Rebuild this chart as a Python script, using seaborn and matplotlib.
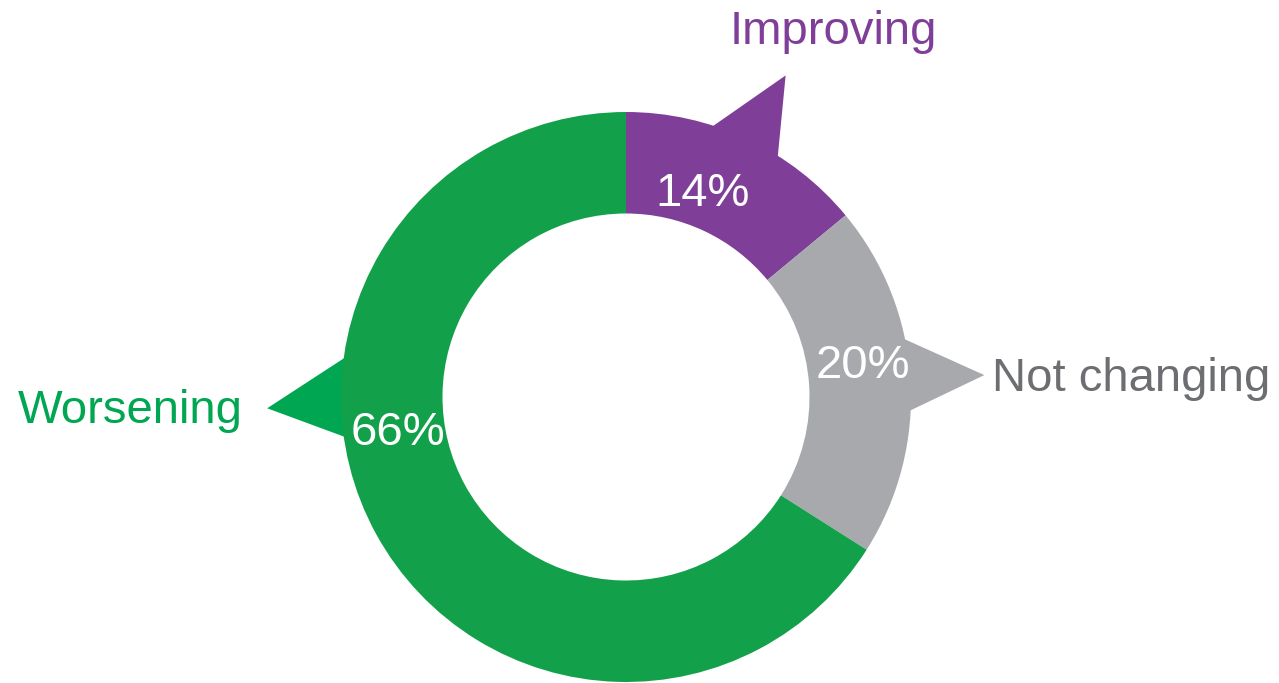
import numpy as np
import matplotlib.pyplot as plt
from matplotlib.patches import Polygon
import seaborn as sns

# donut of change direction
labels = ["Improving", "Not changing", "Worsening"]
shares = [14, 20, 66]
pct_labels = ["14%", "20%", "66%"]

ring_colors = ["#7f3f98", "#a7a9ac", "#12a14a"]
tip_colors = ["#7f3f98", "#a7a9ac", "#00a651"]
text_colors = ["#7f3f98", "#6d6e71", "#00a651"]

sns.set_theme(style="white")
plt.rcParams["font.family"] = ["Liberation Sans", "DejaVu Sans"]

fig = plt.figure(figsize=(12.79, 6.83), dpi=100)
ax = fig.add_axes([0, 0, 1, 1])

cx, cy = 626, 286
r_out, r_in = 285, 183.5

ax.pie(shares, colors=ring_colors, startangle=90, counterclock=False,
       center=(cx, cy), radius=r_out, frame=False,
       wedgeprops=dict(width=r_out - r_in, linewidth=0))

# callout pointers sticking out of the ring (base angles, tip angle)
pointer_geo = [(72.6, 63.6, 57.5), (12.1, 3.5, -3.0), (171.7, 181.8, 188.3)]
for (a1, at, a2), c in zip(pointer_geo, tip_colors):
    pts = [(cx + 282 * np.cos(np.radians(a1)), cy + 282 * np.sin(np.radians(a1))),
           (cx + 359 * np.cos(np.radians(at)), cy + 359 * np.sin(np.radians(at))),
           (cx + 282 * np.cos(np.radians(a2)), cy + 282 * np.sin(np.radians(a2)))]
    ax.add_patch(Polygon(pts, closed=True, facecolor=c, edgecolor="none", zorder=0.5))

# percent labels on the ring
pct_pos = [(703, 477), (863, 305), (398, 238)]
for (x, y), t in zip(pct_pos, pct_labels):
    ax.text(x, y, t, color="white", fontsize=34, ha="center", va="baseline", zorder=5)

# category names
name_pos = [(833, 639, "center"), (992, 292, "left"), (130, 260, "center")]
for (x, y, ha), t, c in zip(name_pos, labels, text_colors):
    ax.text(x, y, t, color=c, fontsize=34, ha=ha, va="baseline", zorder=5)

ax.set_xlim(0, 1279)
ax.set_ylim(0, 683)
ax.set_aspect("equal")
ax.axis("off")

plt.savefig("out.png", dpi=100, facecolor="white")
